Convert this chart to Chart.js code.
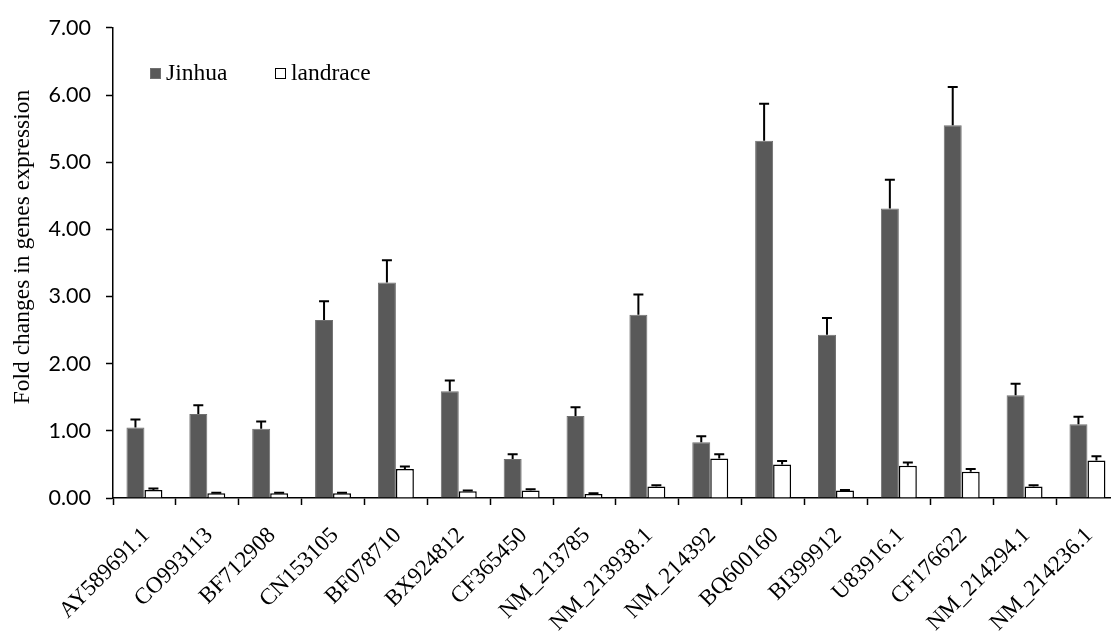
<!DOCTYPE html>
<html>
<head>
<meta charset="utf-8">
<script src="https://cdn.jsdelivr.net/npm/chart.js@4.4.1/dist/chart.umd.min.js"></script>
<style>
  html, body { margin: 0; padding: 0; background: #ffffff; }
  #wrap { width: 1111px; height: 632px; overflow: hidden; position: relative; background: #ffffff; }
  canvas { display: block; }
</style>
</head>
<body>
<div id="wrap"><canvas id="c" width="1124" height="632"></canvas></div>
<script>
// Gene accessions on the x axis
const categories = ['AY589691.1', 'CO993113', 'BF712908', 'CN153105', 'BF078710', 'BX924812',
  'CF365450', 'NM_213785', 'NM_213938.1', 'NM_214392', 'BQ600160', 'BI399912',
  'U83916.1', 'CF176622', 'NM_214294.1', 'NM_214236.1'];

// Fold changes and their (upper) error bars
const jinhua      = [1.05, 1.25, 1.03, 2.65, 3.21, 1.59, 0.58, 1.22, 2.73, 0.83, 5.32, 2.43, 4.31, 5.55, 1.53, 1.10];
const jinhuaErr   = [0.12, 0.13, 0.11, 0.28, 0.33, 0.16, 0.07, 0.13, 0.30, 0.09, 0.55, 0.25, 0.43, 0.57, 0.17, 0.11];
const landrace    = [0.12, 0.07, 0.07, 0.07, 0.43, 0.10, 0.11, 0.06, 0.17, 0.59, 0.50, 0.11, 0.48, 0.39, 0.17, 0.56];
const landraceErr = [0.02, 0.01, 0.01, 0.01, 0.04, 0.01, 0.02, 0.01, 0.02, 0.06, 0.05, 0.01, 0.05, 0.04, 0.02, 0.06];

// Y axis range, step and title
const yMin = 0;
const yMax = 7;
const yStep = 1;
const yTitle = 'Fold changes in genes expression';

const serif = '"Liberation Serif", "Times New Roman", serif';
const sans = 'Lato, "Liberation Sans", sans-serif';

// Upward error bars with a cap, placed with the chart's own scales
const errorBars = {
  id: 'errorBars',
  afterDatasetsDraw(chart) {
    const ctx = chart.ctx;
    const y = chart.scales.y;
    ctx.save();
    ctx.strokeStyle = '#000000';
    ctx.lineWidth = 2;
    chart.data.datasets.forEach((ds, i) => {
      const meta = chart.getDatasetMeta(i);
      meta.data.forEach((bar, j) => {
        const v = ds.data[j];
        const e = ds.errors[j];
        const yBar = y.getPixelForValue(v);
        const yTop = y.getPixelForValue(v + e);
        ctx.beginPath();
        ctx.moveTo(bar.x, yBar);
        ctx.lineTo(bar.x, yTop);
        ctx.moveTo(bar.x - 5, yTop);
        ctx.lineTo(bar.x + 5, yTop);
        ctx.stroke();
      });
    });
    ctx.restore();
  }
};

// Legend drawn inside the plot, upper left
const innerLegend = {
  id: 'innerLegend',
  afterDraw(chart) {
    const ctx = chart.ctx;
    const spots = [{ x: 150, y: 68 }, { x: 275, y: 68 }];
    ctx.save();
    ctx.font = '23.5px ' + serif;
    ctx.textBaseline = 'middle';
    chart.data.datasets.forEach((ds, i) => {
      const p = spots[i];
      ctx.fillStyle = ds.backgroundColor;
      ctx.fillRect(p.x, p.y, 11, 11);
      ctx.strokeStyle = ds.borderColor;
      ctx.lineWidth = 1;
      ctx.strokeRect(p.x + 0.5, p.y + 0.5, 10, 10);
      ctx.fillStyle = '#000000';
      ctx.fillText(ds.label, p.x + 16, p.y + 6);
    });
    ctx.restore();
  }
};

// Vertical y-axis title, a little above the middle of the plot
const sideTitle = {
  id: 'sideTitle',
  afterDraw(chart) {
    const ctx = chart.ctx;
    ctx.save();
    ctx.translate(23, 247);
    ctx.rotate(-Math.PI / 2);
    ctx.font = '23.5px ' + serif;
    ctx.textAlign = 'center';
    ctx.textBaseline = 'middle';
    ctx.fillStyle = '#000000';
    ctx.fillText(yTitle, 0, 0);
    ctx.restore();
  }
};

new Chart(document.getElementById('c'), {
  type: 'bar',
  data: {
    labels: categories,
    datasets: [
      {
        label: 'Jinhua',
        data: jinhua,
        errors: jinhuaErr,
        backgroundColor: '#595959',
        borderColor: '#707070',
        borderWidth: 1,
        categoryPercentage: 0.572,
        barPercentage: 1.0
      },
      {
        label: 'landrace',
        data: landrace,
        errors: landraceErr,
        backgroundColor: '#ffffff',
        borderColor: '#000000',
        borderWidth: 1.5,
        categoryPercentage: 0.572,
        barPercentage: 1.0
      }
    ]
  },
  options: {
    responsive: false,
    animation: false,
    devicePixelRatio: 1,
    layout: { padding: { top: 21, right: 1, left: 0, bottom: 0 } },
    plugins: {
      legend: { display: false },
      tooltip: { enabled: false }
    },
    scales: {
      x: {
        type: 'category',
        offset: true,
        grid: {
          offset: true,
          drawOnChartArea: false,
          drawTicks: true,
          tickLength: 7,
          tickColor: '#000000',
          tickWidth: 1.5
        },
        border: { display: true, color: '#000000', width: 1.5 },
        ticks: {
          autoSkip: false,
          maxRotation: 45,
          minRotation: 45,
          padding: 17,
          labelOffset: 2,
          color: '#000000',
          font: { family: serif, size: 23 }
        },
        afterFit(scale) { scale.height = 134; }
      },
      y: {
        min: yMin,
        max: yMax,
        grid: {
          drawOnChartArea: false,
          drawTicks: true,
          tickLength: 7,
          tickColor: '#000000',
          tickWidth: 1.5
        },
        border: { display: true, color: '#000000', width: 1.5 },
        ticks: {
          stepSize: yStep,
          padding: 15,
          color: '#000000',
          font: { family: sans, size: 21.5 },
          callback: (v) => Number(v).toFixed(2)
        },
        title: { display: false },
        afterFit(scale) { scale.width = 113; }
      }
    }
  },
  plugins: [errorBars, innerLegend, sideTitle]
});
</script>
</body>
</html>
